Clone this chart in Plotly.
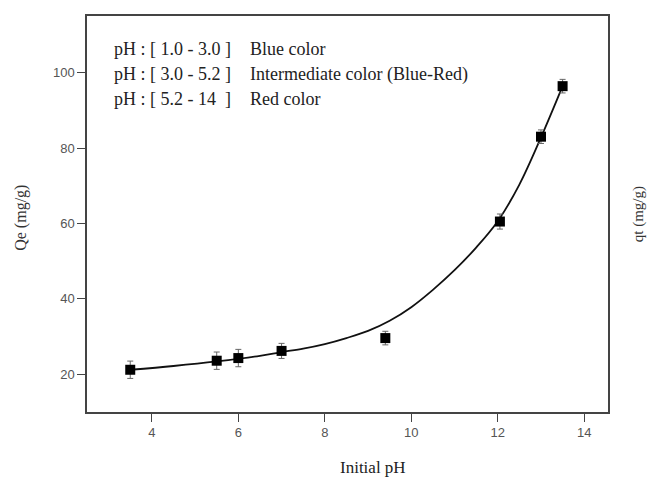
import plotly.graph_objects as go

ph = [3.5, 5.5, 6.0, 7.0, 9.4, 12.05, 13.0, 13.5]
qe = [21.2, 23.6, 24.3, 26.2, 29.6, 60.5, 83.0, 96.4]
qe_err = [2.3, 2.3, 2.3, 2.0, 1.8, 2.0, 1.8, 1.8]

# Fitted curve
fit_ph = [3.5, 4.5, 5.5, 6.5, 7.0, 7.5, 8.0, 8.5, 9.0, 9.5, 10.0, 10.5,
          11.0, 11.5, 12.0, 12.5, 13.0, 13.5]
fit_qe = [21.2, 22.2, 23.4, 24.9, 25.9, 26.8, 28.0, 29.6, 31.5, 34.2, 37.8,
          42.4, 47.6, 53.6, 60.6, 70.3, 82.8, 96.4]

x_ticks = [4, 6, 8, 10, 12, 14]
y_ticks = [20, 40, 60, 80, 100]

range_col1 = ["pH : [ 1.0 - 3.0 ]", "pH : [ 3.0 - 5.2 ]", "pH : [ 5.2 - 14  ]"]
range_col2 = ["Blue color", "Intermediate color (Blue-Red)", "Red color"]

fig = go.Figure()
fig.add_trace(go.Scatter(
    x=fit_ph, y=fit_qe, mode="lines",
    line=dict(color="#111111", width=1.8, shape="spline", smoothing=1.0),
    showlegend=False, hoverinfo="skip"))
fig.add_trace(go.Scatter(
    x=ph, y=qe, mode="markers",
    marker=dict(symbol="square", size=10, color="#000000"),
    error_y=dict(type="data", array=qe_err, visible=True, color="#666666",
                 thickness=1, width=3),
    showlegend=False))

serif = "Liberation Serif, Times New Roman, serif"
sans = "Liberation Sans, Arial, sans-serif"

line_y = [0.916, 0.853, 0.790]
for t1, t2, yy in zip(range_col1, range_col2, line_y):
    fig.add_annotation(x=0.048, y=yy, xref="paper", yref="paper", text=t1,
                       showarrow=False, xanchor="left", yanchor="middle",
                       font=dict(family=serif, size=18, color="#222222"))
    fig.add_annotation(x=0.309, y=yy, xref="paper", yref="paper", text=t2,
                       showarrow=False, xanchor="left", yanchor="middle",
                       font=dict(family=serif, size=18, color="#222222"))

fig.add_annotation(x=0.549, y=-0.14, xref="paper", yref="paper",
                   text="Initial pH", showarrow=False, yanchor="middle",
                   font=dict(family=serif, size=17, color="#222222"))
fig.add_annotation(x=-0.127, y=0.49, xref="paper", yref="paper",
                   text="Qe (mg/g)", showarrow=False, textangle=-90,
                   xanchor="center", yanchor="middle",
                   font=dict(family=serif, size=16, color="#333333"))
fig.add_annotation(x=1.058, y=0.50, xref="paper", yref="paper",
                   text="qt (mg/g)", showarrow=False, textangle=-90,
                   xanchor="center", yanchor="middle",
                   font=dict(family=serif, size=15, color="#333333"))

axis_common = dict(showgrid=False, zeroline=False, showline=True,
                   linecolor="#444444", linewidth=1.5, mirror=True,
                   ticks="outside", tickcolor="#444444", ticklen=8,
                   tickwidth=1.2,
                   tickfont=dict(family=sans, size=13, color="#555555"))

fig.update_xaxes(range=[2.5, 14.55], tickvals=x_ticks, **axis_common)
fig.update_yaxes(range=[10, 115], tickvals=y_ticks, **axis_common)

fig.update_layout(
    width=647, height=469,
    margin=dict(l=79, r=47, t=6, b=65),
    plot_bgcolor="white", paper_bgcolor="white",
)

fig.write_html("out.html")
